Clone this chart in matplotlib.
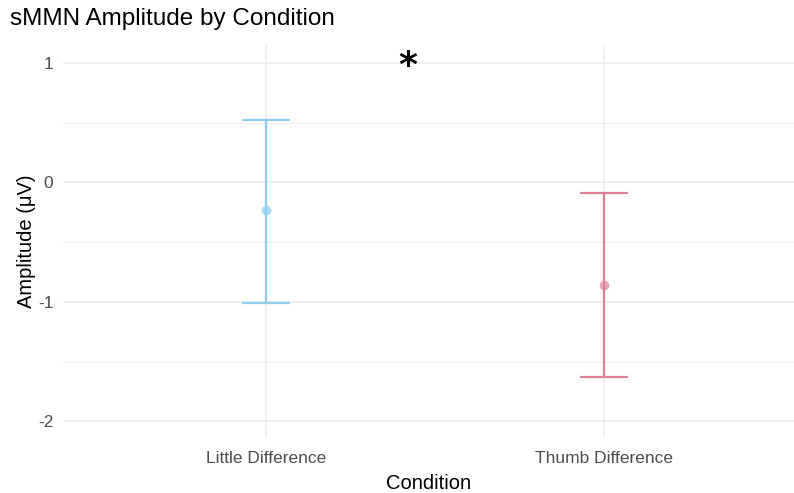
import numpy as np
import matplotlib.pyplot as plt

plt.rcParams['font.family'] = ['Liberation Sans', 'DejaVu Sans']
plt.rcParams['axes.unicode_minus'] = False

# ---Data
conditions = ['Little Difference', 'Thumb Difference']
means = [-0.23, -0.86]
upper = [0.52, -0.09]
lower = [-1.01, -1.63]
colors = ['#8ECDED', '#DB8196']
yticks = [1, 0, -1, -2]
sig_label = '*'

x = np.arange(1, len(conditions) + 1)
err_lo = np.array(means) - np.array(lower)
err_hi = np.array(upper) - np.array(means)

fig = plt.figure(figsize=(7.94, 4.93), dpi=100)
ax = fig.add_axes([63 / 794, 56 / 493, 731 / 794, 392 / 493])

for xi, m, lo, hi, c in zip(x, means, err_lo, err_hi, colors):
    ax.errorbar(xi, m, yerr=[[lo], [hi]], fmt='none', ecolor=c,
                elinewidth=1.6, capsize=17, capthick=1.6, zorder=3)
    ax.plot(xi, m, 'o', color=c, markersize=7, alpha=0.7, zorder=4,
            markeredgewidth=0)

ax.text(1.42, 0.975, sig_label, ha='center', va='center', fontsize=26,
        fontweight='bold', color='black', family='DejaVu Sans')

ax.set_xlim(0.4, 2.56)
ax.set_ylim(-2.13, 1.15)
ax.set_xticks(x)
ax.set_xticklabels(conditions)
ax.set_yticks(yticks)
ax.set_yticks([0.5, -0.5, -1.5], minor=True)
ax.grid(True, which='major', color='#EBEBEB', linewidth=1.1)
ax.grid(True, which='minor', axis='y', color='#EBEBEB', linewidth=0.6)
ax.set_axisbelow(True)
for s in ax.spines.values():
    s.set_visible(False)
ax.tick_params(which='both', length=0, labelsize=12.5, labelcolor='#4D4D4D')
ax.tick_params(axis='y', pad=7)
ax.tick_params(axis='x', pad=10)

ax.set_xlabel('Condition', fontsize=14.5, labelpad=6)
ax.set_ylabel('Amplitude (μV)', fontsize=14.5, labelpad=1)
fig.text(10 / 794, 1 - 19 / 493, 'sMMN Amplitude by Condition', fontsize=17.5,
         va='center', ha='left')

fig.savefig('out.png', dpi=100)
